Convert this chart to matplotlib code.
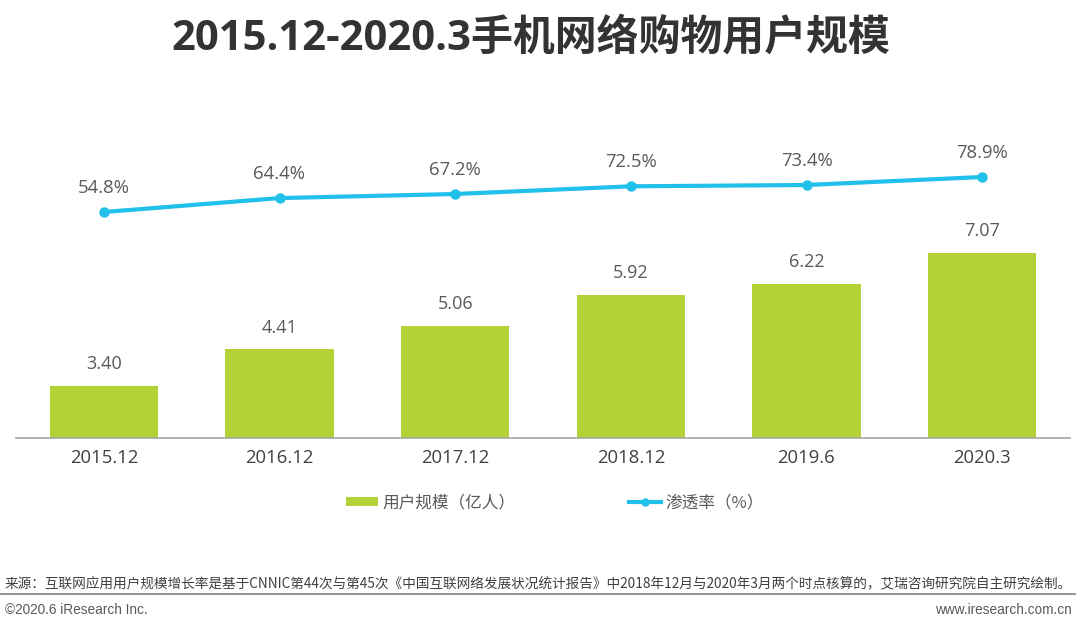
import matplotlib
matplotlib.use("Agg")
import matplotlib.pyplot as plt
from matplotlib.lines import Line2D
from matplotlib.patches import Patch

plt.rcParams['font.family'] = ['Open Sans', 'Noto Sans CJK SC', 'DejaVu Sans']

categories = ["2015.12", "2016.12", "2017.12", "2018.12", "2019.6", "2020.3"]
users = [3.40, 4.41, 5.06, 5.92, 6.22, 7.07]
penetration = [54.8, 64.4, 67.2, 72.5, 73.4, 78.9]

title = "2015.12-2020.3手机网络购物用户规模"
legend_bar = "用户规模（亿人）"
legend_line = "渗透率（%）"
source = "来源：互联网应用用户规模增长率是基于CNNIC第44次与第45次《中国互联网络发展状况统计报告》中2018年12月与2020年3月两个时点核算的，艾瑞咨询研究院自主研究绘制。"
copyright_txt = "©2020.6 iResearch Inc."
url_txt = "www.iresearch.com.cn"

bar_color = "#B2D235"
line_color = "#21C0EA"
text_color = "#595959"

W, H = 1080, 631
fig = plt.figure(figsize=(W / 100, H / 100), dpi=100)
fig.patch.set_facecolor("white")

ax = fig.add_axes([16 / W, (H - 438) / H, 1054 / W, 288 / H])
x = list(range(len(categories)))
ax.bar(x, users, width=0.615, color=bar_color, bottom=0)
ax.set_xlim(-0.5, len(categories) - 0.5)
ax.set_ylim(1.965, 9.91)
for s in ["top", "right", "left"]:
    ax.spines[s].set_visible(False)
ax.spines["bottom"].set_color("#A6A6A6")
ax.spines["bottom"].set_linewidth(1.2)
ax.set_yticks([])
ax.set_xticks(x)
ax.set_xticklabels(categories, fontsize=13.3, color="#404040")
ax.tick_params(axis="x", length=0, pad=8)
for xi, v in zip(x, users):
    ax.annotate(f"{v:.2f}", (xi, v), xytext=(0, 9), textcoords="offset points",
                ha="center", va="bottom", fontsize=13, color=text_color)

ax2 = ax.twinx()
ax2.set_ylim(-100.8, 97.5)
ax2.plot(x, penetration, color=line_color, linewidth=3, marker="o", markersize=6.5)
ax2.axis("off")
for xi, v in zip(x, penetration):
    ax2.annotate(f"{v:.1f}%", (xi, v), xytext=(0, 11), textcoords="offset points",
                 ha="center", va="bottom", fontsize=13.3, color=text_color)

fig.text(531 / W, 1 - 39 / H, title, ha="center", va="center", fontsize=30.2,
         fontweight="bold", color="#333333")

handles = [Patch(facecolor=bar_color, edgecolor="none"),
           Line2D([0], [0], color=line_color, linewidth=3, marker="o", markersize=5)]
fig.legend(handles, [legend_bar, legend_line], loc="center", ncol=2,
           bbox_to_anchor=(555 / W, 1 - 503 / H), frameon=False,
           labelcolor=text_color, columnspacing=6.8, handlelength=1.9,
           handletextpad=0.3, handleheight=0.5,
           prop={'family': ['Noto Sans CJK SC', 'DejaVu Sans'], 'size': 12})

fig.text(5 / W, 1 - 584 / H, source, ha="left", va="center", fontsize=9.85, color="#404040",
         family=['Noto Sans CJK SC', 'DejaVu Sans'])
fig.add_artist(Line2D([0, 1075 / W], [1 - 594 / H, 1 - 594 / H], color="#7F7F7F",
                      linewidth=1.2, transform=fig.transFigure))
fig.text(5 / W, 1 - 610 / H, copyright_txt, ha="left", va="center", fontsize=9.8, color="#595959",
         family=['Liberation Sans', 'DejaVu Sans'])
fig.text(1072 / W, 1 - 610 / H, url_txt, ha="right", va="center", fontsize=9.8, color="#595959",
         family=['Liberation Sans', 'DejaVu Sans'])

fig.savefig("out.png", dpi=100)
